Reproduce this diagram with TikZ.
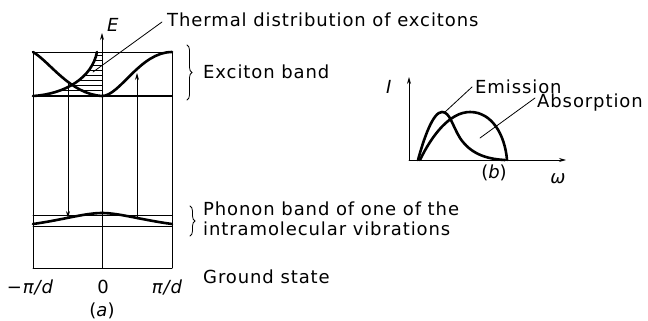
\documentclass[tikz,border=0pt]{standalone}
\usepackage{fontspec}
\usetikzlibrary{arrows.meta,decorations.pathreplacing}
\newfontfamily\lbfont[LetterSpace=5]{DejaVu Sans}
\begin{document}
\begin{tikzpicture}[x=1pt,y=-1pt,
  thinline/.style={line width=0.8pt,line cap=round},
  hatchline/.style={line width=0.5pt},
  curve/.style={line width=2.6pt,line cap=round},
  midline/.style={line width=1.6pt},
  arr/.style={-{Stealth[length=7pt,width=4pt]}},
  lbl/.style={inner sep=0pt,anchor=base west,font=\lbfont\fontsize{18}{20}\selectfont},
  lblc/.style={inner sep=0pt,anchor=base,font=\lbfont\fontsize{18}{20}\selectfont},
  brc/.style={thinline,decorate,decoration={brace,amplitude=5pt}}]
\useasboundingbox (0,0) rectangle (648,321);
% ---------- panel (a) ----------
\coordinate (tl) at (33,52);  \coordinate (tr) at (172,52);
\coordinate (bl) at (33,96);  \coordinate (br) at (172,96);
\coordinate (gl) at (33,268); \coordinate (gr) at (172,268);
\coordinate (pl) at (33,215); \coordinate (pr) at (172,215);
\coordinate (ql) at (33,226); \coordinate (qr) at (172,226);
\coordinate (axb) at (102,268); \coordinate (axt) at (102,33);
% hatching of the thermal distribution
\begin{scope}
  \clip (33,96) .. controls (65,94) and (92,78) .. (97,52) -- (102,52) -- (102,96) -- cycle;
  \foreach \yy in {55,60,...,95} \draw[hatchline] (33,\yy) -- (102,\yy);
\end{scope}
% frame lines
\draw[thinline] (tl) -- (tr);
\draw[midline] (bl) -- (br);
\draw[thinline] (pl) -- (pr);
\draw[thinline] (ql) -- (qr);
\draw[thinline] (gl) -- (gr);
\draw[thinline] (tl) -- (gl);
\draw[thinline] (tr) -- (gr);
\draw[thinline,arr] (axb) -- (axt);
% transitions
\coordinate (emA) at (68,83);  \coordinate (emB) at (68,218);
\coordinate (abA) at (137,219); \coordinate (abB) at (137,73);
\draw[thinline,arr] (emA) -- (emB);
\draw[thinline,arr] (abA) -- (abB);
% exciton dispersion
\draw[curve] (tl) .. controls (50,62) and (70,94) .. (102,96)
                   .. controls (120,96) and (140,52) .. (tr);
% thermal distribution
\draw[curve] (bl) .. controls (65,94) and (92,78) .. (97,52);
% phonon band dispersion
\draw[curve] (33,224) .. controls (62,220) and (85,213) .. (102,213)
                      .. controls (119,213) and (142,220) .. (172,224);
% labels panel (a)
\node[lbl] (Elab) at (107,32) {\itshape E};
\node[lbl] (therm) at (167,27) {Thermal distribution of excitons};
\coordinate (thermpt) at (93,72);
\draw[thinline] (162,22) -- (thermpt);
\draw[brc] (187,45) -- (187,100);
\node[lbl] (exc) at (203,78) {Exciton band};
\draw[brc] (190,206) -- (190,236);
\node[lbl] (ph1) at (203,215) {Phonon band of one of the};
\node[lbl] (ph2) at (203,235) {intramolecular vibrations};
\node[lbl] (gs) at (203,283) {Ground state};
\node[lblc] (km) at (30,293) {\itshape −π/d};
\node[lblc] (k0) at (103,293) {0};
\node[lblc] (kp) at (167,293) {\itshape π/d};
\node[lblc] (la) at (102,316) {(\itshape a\upshape)};
% ---------- panel (b) ----------
\coordinate (O) at (409,160);
\coordinate (Itop) at (409,77);
\coordinate (wend) at (566,160);
\draw[thinline,arr] (O) -- (Itop);
\draw[thinline,arr] (O) -- (wend);
\node[lbl] (Ilab) at (386,93) {\itshape I};
\draw[curve] (420,160) .. controls (432,135) and (450,112) .. (470,112)
                       .. controls (492,112) and (505,135) .. (507,160);
\draw[curve] (418,160) .. controls (424,138) and (433,112) .. (442,112)
                       .. controls (450,112) and (452,125) .. (460,138)
                       .. controls (470,153) and (485,159) .. (505,160);
\node[lbl] (emis) at (475,93) {Emission};
\node[lbl] (abso) at (537,107) {Absorption};
\draw[thinline] (445,112) -- (472,87);
\draw[thinline] (480,138) -- (535,98);
\node[lblc] (lb) at (494,178) {(\itshape b\upshape)};
\node[lblc] (wlab) at (558,183) {\itshape ω};
\end{tikzpicture}
\end{document}
